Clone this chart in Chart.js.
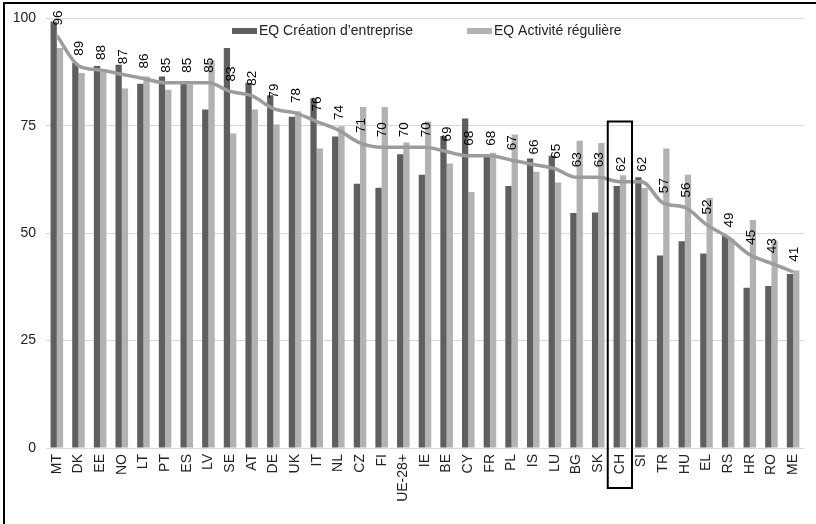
<!DOCTYPE html>
<html><head><meta charset="utf-8">
<script src="https://cdn.jsdelivr.net/npm/chart.js@4.4.1/dist/chart.umd.min.js"></script>
<style>
html,body{margin:0;padding:0;background:#fff;}
#wrap{position:relative;width:816px;height:524px;overflow:hidden;}
#frame{position:absolute;left:3px;top:2px;width:900px;height:600px;border-left:2px solid #000;border-top:2px solid #000;pointer-events:none;}
canvas{position:absolute;left:0;top:0;}
</style></head><body>
<div id="wrap"><canvas id="c" width="816" height="524"></canvas><div id="frame"></div></div>
<script>
const categories = ['MT','DK','EE','NO','LT','PT','ES','LV','SE','AT','DE','UK','IT','NL','CZ','FI','UE-28+','IE','BE','CY','FR','PL','IS','LU','BG','SK','CH','SI','TR','HU','EL','RS','HR','RO','ME'];
const creationValues = [99.3,89.6,88.9,89.2,84.8,86.5,84.8,78.8,93.1,85.0,82.1,77.1,81.4,72.5,61.5,60.6,68.4,63.6,72.6,76.7,67.8,61.0,67.4,68.0,54.7,54.8,61.0,63.0,44.8,48.1,45.3,49.4,37.3,37.7,40.5];
const activiteValues = [93.1,87.3,87.5,83.7,86.5,83.4,84.6,90.2,73.2,78.8,75.3,78.4,69.7,74.9,79.4,79.4,71.1,76.0,66.2,59.6,68.7,73.0,64.3,61.8,71.5,71.0,63.5,60.5,69.7,63.6,58.2,48.7,53.1,48.3,41.3];
const averageValues = [96,89,88,87,86,85,85,85,83,82,79,78,76,74,71,70,70,70,69,68,68,67,66,65,63,63,62,62,57,56,52,49,45,43,41];
const yTicks = [0,25,50,75,100];
const seriesNames = ['EQ Création d\u2019entreprise','EQ Activité régulière','Moyenne'];
const highlightCategory = 'CH';

const FONT = '"Liberation Sans", Arial, sans-serif';
const darkColor = '#5f5f5f';
const lightColor = '#b2b2b2';
const lineColor = '#9c9c9c';

const labelsPlugin = {
  id: 'lineLabels',
  afterDatasetsDraw(chart) {
    const ctx = chart.ctx;
    const meta = chart.getDatasetMeta(0);
    ctx.save();
    ctx.font = '13.5px ' + FONT;
    ctx.fillStyle = '#000';
    ctx.textAlign = 'left';
    ctx.textBaseline = 'middle';
    meta.data.forEach((pt, i) => {
      ctx.save();
      ctx.translate(pt.x + 1, pt.y - 10);
      ctx.rotate(-Math.PI / 2);
      ctx.fillText(String(averageValues[i]), 0, 0);
      ctx.restore();
    });
    ctx.restore();
  }
};

const highlightPlugin = {
  id: 'highlight',
  afterDraw(chart) {
    const ctx = chart.ctx;
    const xs = chart.scales.x, ys = chart.scales.y;
    const idx = categories.indexOf(highlightCategory);
    const cx = xs.getPixelForValue(idx);
    const half = xs.width / categories.length * 0.56;
    const top = ys.getPixelForValue(76);
    const bottom = chart.chartArea.bottom + 40;
    ctx.save();
    ctx.strokeStyle = '#000';
    ctx.lineWidth = 2;
    ctx.strokeRect(cx - half, top, 2 * half, bottom - top);
    ctx.restore();
  }
};

const legendPlugin = {
  id: 'customLegend',
  afterDraw(chart) {
    const ctx = chart.ctx;
    const items = [
      {text: seriesNames[0], color: darkColor, x: 232},
      {text: seriesNames[1], color: lightColor, x: 467}
    ];
    ctx.save();
    ctx.font = '14px ' + FONT;
    ctx.textBaseline = 'middle';
    ctx.textAlign = 'left';
    items.forEach(it => {
      ctx.fillStyle = it.color;
      ctx.fillRect(it.x, 28, 25, 6);
      ctx.fillStyle = '#222';
      ctx.fillText(it.text, it.x + 27, 31);
    });
    ctx.restore();
  }
};

new Chart(document.getElementById('c').getContext('2d'), {
  type: 'bar',
  data: {
    labels: categories,
    datasets: [
      {type: 'line', label: seriesNames[2], data: averageValues, borderColor: lineColor, borderWidth: 3.5,
       pointRadius: 0, cubicInterpolationMode: 'monotone', fill: false, order: 0},
      {label: seriesNames[0], data: creationValues, backgroundColor: darkColor, order: 1,
       categoryPercentage: 0.58, barPercentage: 1},
      {label: seriesNames[1], data: activiteValues, backgroundColor: lightColor, order: 1,
       categoryPercentage: 0.58, barPercentage: 1}
    ]
  },
  options: {
    responsive: false,
    animation: false,
    layout: {padding: {top: 17, right: 6, left: 0, bottom: 0}},
    plugins: {legend: {display: false}, tooltip: {enabled: false}},
    scales: {
      x: {
        grid: {display: false, drawTicks: false},
        border: {display: true, color: '#d9d9d9'},
        ticks: {autoSkip: false, minRotation: 90, maxRotation: 90, padding: 6,
                font: {family: FONT, size: 14}, color: '#222'},
        afterFit(s) { s.height = 76; }
      },
      y: {
        min: 0, max: 100,
        afterBuildTicks(s) { s.ticks = yTicks.map(v => ({value: v})); },
        ticks: {padding: 10, font: {family: FONT, size: 14}, color: '#222'},
        grid: {color: '#d9d9d9', drawTicks: false},
        border: {display: false},
        afterFit(s) { s.width = 46; }
      }
    }
  },
  plugins: [labelsPlugin, highlightPlugin, legendPlugin]
});
</script>
</body></html>
